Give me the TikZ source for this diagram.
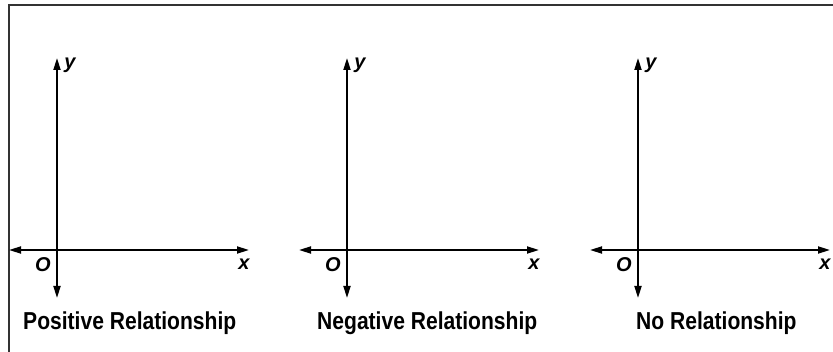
\documentclass[tikz,border=0pt]{standalone}
\usepackage{fontspec}
\setmainfont{Liberation Sans}
\newfontfamily\condbold[FakeStretch=0.86]{Liberation Sans}
\usetikzlibrary{arrows.meta}
\tikzset{
  axis/.style={line width=1.8pt, -{Triangle[length=12pt,width=7pt]}},
  lbl/.style={font=\bfseries\itshape\fontsize{20}{20}\selectfont, inner sep=0pt},
  caption/.style={font=\condbold\bfseries\fontsize{24.5}{24.5}\selectfont, inner sep=0pt, anchor=base west},
  frame/.style={line width=2pt, draw=black!80}
}
\begin{document}
\begin{tikzpicture}[x=1pt,y=-1pt]
\useasboundingbox (0,0) rectangle (833,352);
\draw[frame] (8.5,353) -- (8.5,5) -- (834,5);
\foreach \i/\ox/\cap/\cx in {1/57/Positive Relationship/23, 2/347/Negative Relationship/317, 3/638/No Relationship/636}{
  \coordinate (o\i) at (\ox,250);
  \coordinate (t\i) at (\ox,58);
  \coordinate (b\i) at (\ox,298);
  \coordinate (l\i) at (\ox-48,250);
  \coordinate (r\i) at (\ox+192,250);
  \draw[axis] (o\i) -- (t\i);
  \draw[axis] (o\i) -- (b\i);
  \draw[axis] (o\i) -- (l\i);
  \draw[axis] (o\i) -- (r\i);
  \node[lbl] (y\i) at (\ox+13,65) {y};
  \node[lbl] (O\i) at (\ox-14,265) {O};
  \node[lbl] (x\i) at (\ox+187,264) {x};
  \node[caption] (c\i) at (\cx,330) {\cap};
}
\end{tikzpicture}
\end{document}
